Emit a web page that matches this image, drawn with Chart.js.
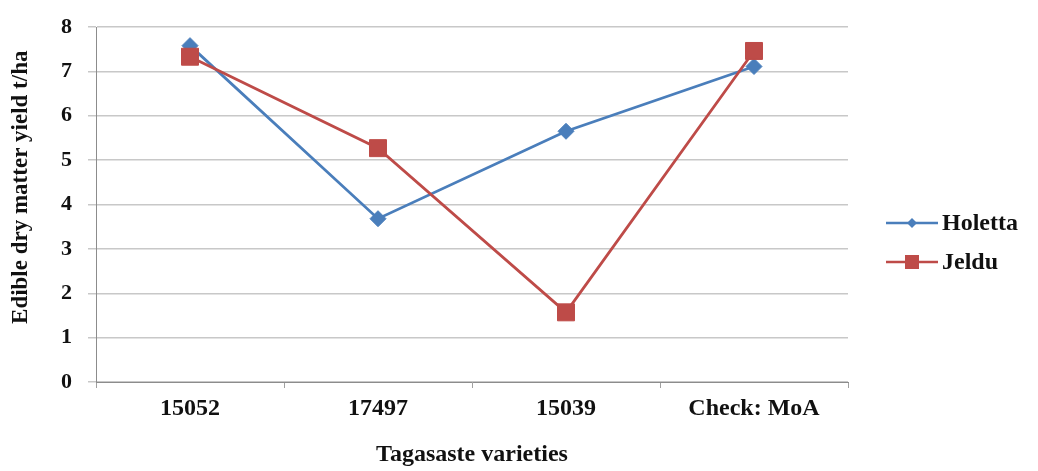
<!DOCTYPE html>
<html>
<head>
<meta charset="utf-8">
<script src="https://cdn.jsdelivr.net/npm/chart.js@4/dist/chart.umd.min.js"></script>
<style>
html, body { margin: 0; padding: 0; background: #fff; }
</style>
</head>
<body>
<canvas id="myChart" width="1038" height="471"></canvas>
<script>
// values
let varieties = ['15052', '17497', '15039', 'Check: MoA'];
let holetta = [7.58, 3.68, 5.65, 7.11];
let jeldu = [7.33, 5.27, 1.57, 7.46];
let yMin = 0, yMax = 8, yStep = 1;

let serif = '"Liberation Serif", "Times New Roman", serif';

// legend on the right: line with marker in the middle, like the office one
let sideLegend = {
	id: 'sideLegend',
	afterDraw: function (chart) {
		let ctx = chart.ctx;
		let x0 = chart.chartArea.right + 38;
		chart.data.datasets.forEach(function (ds, i) {
			let y = 223 + i * 39;
			let cx = x0 + 26;
			ctx.save();
			ctx.strokeStyle = ds.borderColor;
			ctx.lineWidth = 2.5;
			ctx.beginPath();
			ctx.moveTo(x0, y);
			ctx.lineTo(x0 + 52, y);
			ctx.stroke();
			ctx.fillStyle = ds.backgroundColor;
			ctx.beginPath();
			if (ds.pointStyle == 'rectRot') {
				ctx.moveTo(cx, y - 5);
				ctx.lineTo(cx + 5, y);
				ctx.lineTo(cx, y + 5);
				ctx.lineTo(cx - 5, y);
				ctx.closePath();
			} else {
				ctx.rect(cx - 7, y - 7, 14, 14);
			}
			ctx.fill();
			ctx.fillStyle = '#111';
			ctx.font = 'bold 24px ' + serif;
			ctx.textBaseline = 'middle';
			ctx.textAlign = 'left';
			ctx.fillText(ds.label, x0 + 56, y + 1);
			ctx.restore();
		});
	}
};

let ctx = document.getElementById('myChart').getContext('2d');
let chart = new Chart(ctx, {
	type: 'line',
	data: {
		labels: varieties,
		datasets: [{
			label: 'Holetta',
			data: holetta,
			borderColor: '#4a7ebb',
			backgroundColor: '#4a7ebb',
			borderWidth: 2.8,
			pointStyle: 'rectRot',
			pointRadius: 8,
			pointBorderWidth: 1,
			tension: 0,
			order: 1
		}, {
			label: 'Jeldu',
			data: jeldu,
			borderColor: '#be4b48',
			backgroundColor: '#be4b48',
			borderWidth: 2.8,
			pointStyle: 'rect',
			pointRadius: 12,
			pointBorderWidth: 1,
			tension: 0,
			order: 0
		}]
	},
	options: {
		responsive: false,
		animation: false,
		layout: { padding: { left: 0, right: 190, top: 25, bottom: 0 } },
		plugins: {
			legend: { display: false },
			tooltip: { enabled: false }
		},
		scales: {
			x: {
				offset: true,
				grid: { offset: true, drawOnChartArea: false, drawTicks: true, tickLength: 6, color: '#a0a0a0' },
				border: { color: '#8c8c8c', width: 1 },
				ticks: { color: '#111', padding: 6, font: { family: serif, size: 24, weight: 'bold' } },
				title: {
					display: true,
					text: 'Tagasaste varieties',
					color: '#111',
					padding: { top: 0, bottom: 2 },
					font: { family: serif, size: 24, weight: 'bold' }
				},
				afterFit: function (scale) { scale.height = 89; }
			},
			y: {
				min: yMin,
				max: yMax,
				grid: { color: '#c8c8c8', lineWidth: 1.5, tickLength: 8 },
				border: { color: '#8c8c8c', width: 1 },
				ticks: { stepSize: yStep, color: '#111', padding: 16, font: { family: serif, size: 22, weight: 'bold', lineHeight: 1 } },
				title: {
					display: true,
					text: '      Edible dry matter yield t/ha',
					color: '#111',
					padding: { top: 7, bottom: 0 },
					font: { family: serif, size: 23, weight: 'bold' }
				},
				afterFit: function (scale) { scale.width = 96; }
			}
		}
	},
	plugins: [sideLegend]
});
</script>
</body>
</html>
